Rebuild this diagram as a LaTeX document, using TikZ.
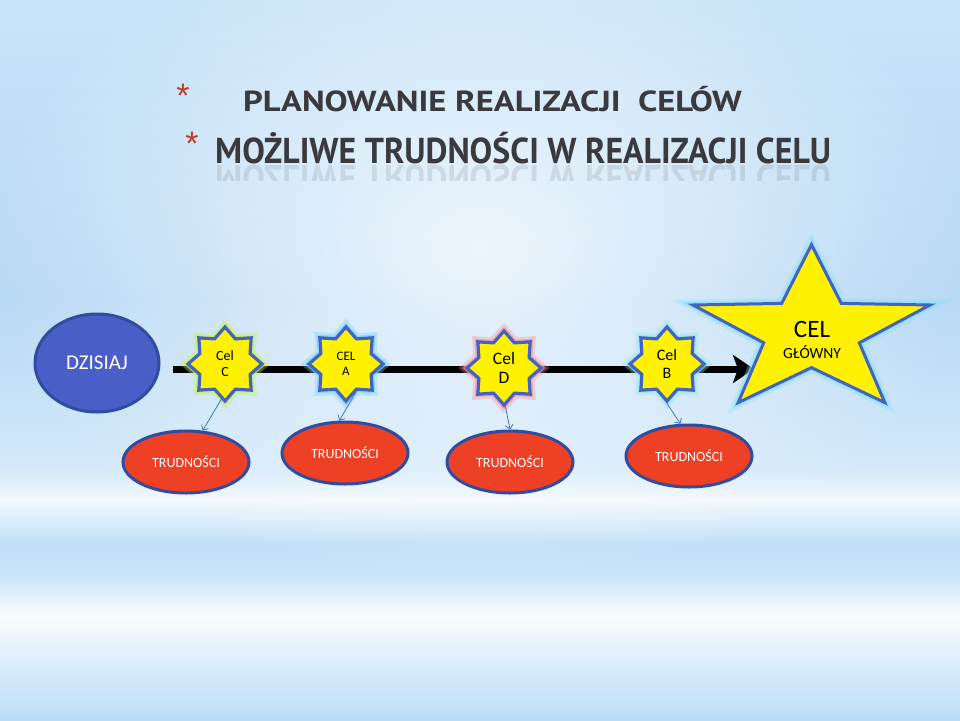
\documentclass[tikz,border=0pt]{standalone}
\usepackage{fontspec}
\setmainfont{Carlito}
\newfontfamily\titlefont{PT Sans}
\newfontfamily\astfont{Liberation Sans}
\usetikzlibrary{shapes.geometric,arrows.meta,fadings}
\tikzfading[name=centerglow, inner color=transparent!0, outer color=transparent!100]
\definecolor{bgA}{RGB}{200,228,248}
\definecolor{bgB}{RGB}{182,216,244}
\definecolor{bgC}{RGB}{212,234,250}
\definecolor{bgD}{RGB}{242,249,254}
\definecolor{bgE}{RGB}{192,223,247}
\definecolor{bgF}{RGB}{200,228,248}
\definecolor{bgG}{RGB}{250,253,255}
\definecolor{bgH}{RGB}{222,238,251}
\definecolor{bgI}{RGB}{188,221,246}
\definecolor{titlegray}{RGB}{58,58,62}
\definecolor{astred}{RGB}{196,58,40}
\definecolor{dzfill}{RGB}{74,94,200}
\definecolor{edgeblue}{RGB}{48,76,160}
\definecolor{starblue}{RGB}{66,98,196}
\definecolor{trfill}{RGB}{238,64,36}
\definecolor{connblue}{RGB}{58,120,192}
\definecolor{glowC}{RGB}{200,240,90}
\definecolor{glowA}{RGB}{120,210,250}
\definecolor{glowD}{RGB}{245,150,160}
\definecolor{glowB}{RGB}{150,230,240}
\definecolor{glowG}{RGB}{140,225,250}
\tikzset{
  glow/.style={preaction={draw=#1,line width=11pt,opacity=.35},
               preaction={draw=#1,line width=6pt,opacity=.7}},
  smallstar/.style={star,star points=8,star point ratio=1.36,minimum size=74pt,
      inner sep=0pt,fill=yellow,draw=starblue,line width=3.2pt,align=center,
      font=\fontsize{14}{16}\selectfont},
  trud/.style={ellipse,minimum width=126pt,minimum height=62pt,inner sep=0pt,
      fill=trfill,draw=edgeblue,line width=3pt,text=white,font=\fontsize{14}{15}\selectfont},
  conn/.style={draw=connblue,line width=0.8pt,-{Straight Barb[length=4pt,width=8pt]}},
  asterisk/.style={text=astred,font=\astfont\fontsize{34}{34}\selectfont,inner sep=0pt,anchor=base},
  titletext/.style={anchor=base west,inner sep=0pt,text=titlegray,transform shape},
}
\begin{document}
\begin{tikzpicture}[x=1pt,y=-1pt]
\useasboundingbox (0,0) rectangle (960,720);
% background
\shade[top color=bgA,bottom color=bgB] (0,0) rectangle (960,300);
\shade[top color=bgB,bottom color=bgC] (0,300) rectangle (960,470);
\shade[top color=bgC,bottom color=bgD] (0,470) rectangle (960,500);
\shade[top color=bgD,bottom color=bgE] (0,500) rectangle (960,545);
\shade[top color=bgE,bottom color=bgF] (0,545) rectangle (960,575);
\shade[top color=bgF,bottom color=bgG] (0,575) rectangle (960,615);
\shade[top color=bgG,bottom color=bgH] (0,615) rectangle (960,660);
\shade[top color=bgH,bottom color=bgI] (0,660) rectangle (960,720);
\fill[white,opacity=.75,path fading=centerglow] (480,250) ellipse [x radius=500,y radius=340];
% titles
\node[asterisk] (ast1) at (183,107) {*};
\node[titletext,xscale=1.19,font=\titlefont\bfseries\fontsize{29}{29}\selectfont] (t1) at (243,111) {PLANOWANIE REALIZACJI\ \ CELÓW};
\node[asterisk] (ast2) at (192,155) {*};
\node[titletext,xscale=0.94,font=\titlefont\bfseries\fontsize{36}{36}\selectfont] (t2) at (215,163) {MOŻLIWE TRUDNOŚCI W REALIZACJI CELU};
\begin{scope}
\clip (200,164) rectangle (860,180);
\node[titletext,xscale=0.94,yscale=-1,text opacity=.12,font=\titlefont\bfseries\fontsize{36}{36}\selectfont] (t2r) at (215,165) {MOŻLIWE TRUDNOŚCI W REALIZACJI CELU};
\end{scope}
% today
\node[ellipse,minimum width=124pt,minimum height=98pt,inner sep=0pt,fill=dzfill,draw=edgeblue,line width=3pt,text=white,font=\fontsize{21}{22}\selectfont] (dz) at (97,363) {DZISIAJ};
% timeline
\coordinate (tl) at (173,369);
\coordinate (goalL) at (754,369);
\draw[line width=7pt,-{Stealth[length=21pt,width=28pt,inset=5pt]}] (tl) -- (goalL);
% big star
\path[fill=yellow,draw=starblue,line width=3pt,line join=miter,glow=glowG]
  (811.5,244.7) -- (841.3,303.4) -- (930,305) -- (859.3,342.8) -- (884.8,402.6)
  -- (811.5,367.6) -- (738.2,402.6) -- (763.7,342.8) -- (693,305) -- (781.7,303.4) -- cycle;
\node[inner sep=0pt,anchor=base] (goal) at (812,337) {\fontsize{25}{25}\selectfont CEL};
\node[inner sep=0pt,anchor=base,font=\fontsize{15.5}{16}\selectfont] (goal2) at (812,358) {GŁÓWNY};
% small stars
\node[smallstar,glow=glowC] (sC) at (225,364) {Cel\\C};
\node[smallstar,glow=glowA,font=\fontsize{13}{15}\selectfont] (sA) at (346,364) {CEL\\A};
\node[smallstar,glow=glowD,font=\fontsize{17.5}{18.5}\selectfont] (sD) at (504,368) {Cel\\D};
\node[smallstar,glow=glowB,font=\fontsize{16}{18}\selectfont] (sB) at (667,364) {Cel\\B};
% difficulties
\node[trud] (tC) at (186,462) {TRUDNOŚCI};
\node[trud] (tA) at (345,453) {TRUDNOŚCI};
\node[trud] (tD) at (510,462) {TRUDNOŚCI};
\node[trud] (tB) at (689,456) {TRUDNOŚCI};
% connectors
\draw[conn] (sC.-96) -- (tC.62);
\draw[conn] (sA.-70) -- (tA.100);
\draw[conn] (sD.-88) -- (tD.90);
\draw[conn] (sB.-90) -- (tB.105);
\end{tikzpicture}
\end{document}
